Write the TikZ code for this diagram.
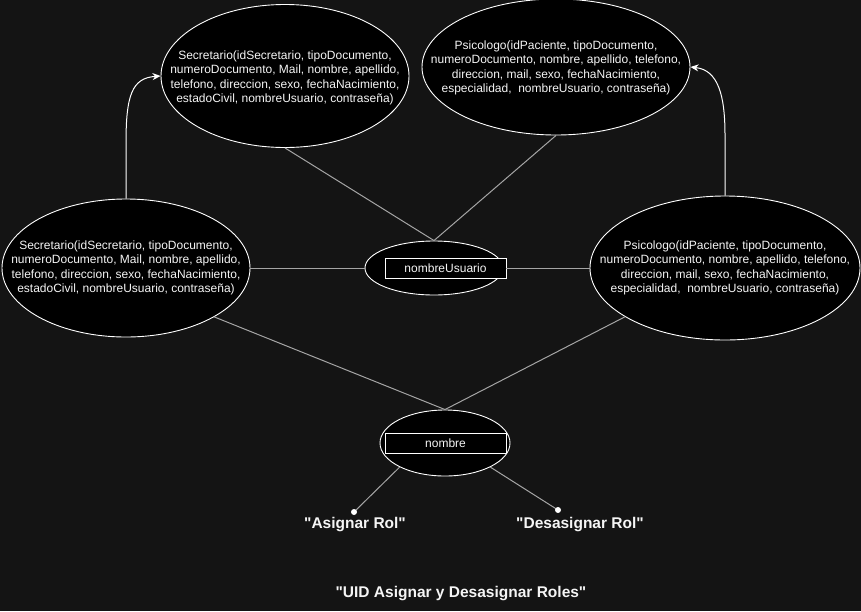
\documentclass[tikz,border=0pt]{standalone}
\usepackage{fontspec}
\setmainfont{Liberation Sans}
\usetikzlibrary{shapes.geometric,arrows.meta}
\definecolor{bgc}{RGB}{20,20,20}
\definecolor{linec}{RGB}{165,165,165}
\definecolor{txtc}{RGB}{245,245,245}
\def\dq{\XeTeXglyph\XeTeXcharglyph"22\relax}
\begin{document}
\begin{tikzpicture}[x=1pt,y=-1pt,
  ent/.style={ellipse,draw=white,fill=black,line width=0.9pt,inner sep=0pt},
  enttext/.style={text=txtc,align=center,inner sep=0pt,font=\fontsize{12}{14.5}\selectfont},
  keybox/.style={rectangle,draw=white,fill=black,line width=0.9pt,inner sep=0pt,
    text=txtc,font=\fontsize{12}{14}\selectfont},
  conn/.style={draw=linec,line width=1pt},
  arr/.style={draw=white,line width=1pt,-{Stealth[length=8pt,width=7pt,inset=2.5pt]}},
  lbl/.style={text=txtc,font=\fontsize{15.5}{18}\selectfont\bfseries},
  dotc/.style={circle,fill=white,inner sep=0pt,minimum size=6pt}]
\fill[bgc] (0,0) rectangle (861,611);
\useasboundingbox (0,0) rectangle (861,611);

\node[ent,minimum width=248pt,minimum height=143pt] (sec) at (285,76) {};
\node[enttext] (sect) at (285,78)
 {Secretario(idSecretario, tipoDocumento,\\numeroDocumento, Mail, nombre, apellido,\\telefono, direccion, sexo, fechaNacimiento,\\estadoCivil, nombreUsuario, contraseña)};
\node[ent,minimum width=268pt,minimum height=136pt] (psi) at (556,67) {};
\node[enttext] (psit) at (556,68)
 {Psicologo(idPaciente, tipoDocumento,\\numeroDocumento, nombre, apellido, telefono,\\direccion, mail, sexo, fechaNacimiento,\\especialidad,\ \ nombreUsuario, contraseña)};
\node[ent,minimum width=248pt,minimum height=138pt] (lsec) at (126,268) {};
\node[enttext] (lsect) at (126,268)
 {Secretario(idSecretario, tipoDocumento,\\numeroDocumento, Mail, nombre, apellido,\\telefono, direccion, sexo, fechaNacimiento,\\estadoCivil, nombreUsuario, contraseña)};
\node[ent,minimum width=270pt,minimum height=144pt] (rpsi) at (725,268) {};
\node[enttext] (rpsit) at (725,268)
 {Psicologo(idPaciente, tipoDocumento,\\numeroDocumento, nombre, apellido, telefono,\\direccion, mail, sexo, fechaNacimiento,\\especialidad,\ \ nombreUsuario, contraseña)};

\node[ent,minimum width=138pt,minimum height=54pt] (nu) at (434,268) {};
\node[keybox,minimum width=121pt,minimum height=20pt] (nubox) at (445.5,268) {nombreUsuario};
\node[ent,minimum width=130pt,minimum height=66pt] (nom) at (445,443) {};
\node[keybox,minimum width=121pt,minimum height=20pt] (nombox) at (445.5,443) {nombre};

\draw[conn] (sec.south) -- (nu.north);
\draw[conn] (psi.south) -- (nu.north);
\draw[conn] (lsec.east) -- (nu.west);
\draw[conn] (nubox.east) -- (rpsi.west);
\draw[conn] (lsec.-29) -- (nom.north);
\draw[conn] (rpsi.-154) -- (nom.north);

\coordinate (pa) at (354,512);
\coordinate (pd) at (558,510);
\draw[conn] (nom.-152) -- (pa);
\draw[conn] (nom.-28) -- (pd);
\node[dotc] (da) at (pa) {};
\node[dotc] (dd) at (pd) {};

\draw[arr] (lsec.north) -- (126,143) .. controls (126,95) and (132,78) .. (sec.west);
\draw[arr] (rpsi.north) -- (725,135) .. controls (725,95) and (718,70) .. (psi.east);

\node[lbl] (asig) at (355,525) {\dq Asignar Rol\dq};
\node[lbl] (desa) at (580,525) {\dq Desasignar Rol\dq};
\node[lbl] (title) at (461,594) {\dq UID Asignar y Desasignar Roles\dq};
\end{tikzpicture}
\end{document}
